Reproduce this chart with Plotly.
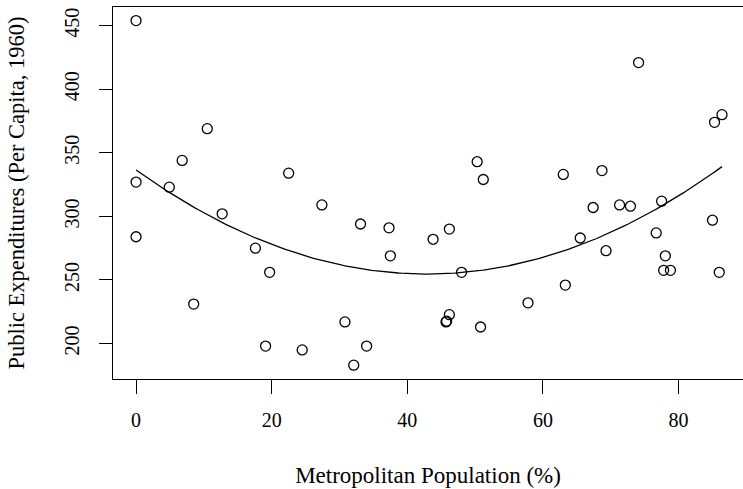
import numpy as np
import plotly.graph_objects as go

# Metropolitan population (%) and public expenditures per capita (1960)
metro = [0, 10.5, 6.8, 0, 4.9, 22.5, 27.4, 12.7, 33.1, 37.3,
         0, 17.6, 37.5, 19.7, 8.5, 30.8, 19.1, 24.5, 34.0, 32.1,
         74.1, 86.4, 85.3, 50.3, 51.2, 63.0, 68.7, 71.3, 67.4, 72.9,
         77.5, 85.0, 46.2, 43.8, 65.5, 76.7, 69.3, 78.05, 77.8, 78.8,
         86.0, 48.0, 63.3, 57.8, 46.2, 45.7, 45.8, 50.8]
expend = [454, 369, 344, 327, 323, 334, 309, 302, 294, 291,
          284, 275, 269, 256, 231, 217, 198, 195, 198, 183,
          421, 380, 374, 343, 329, 333, 336, 309, 307, 308,
          312, 297, 290, 282, 283, 287, 273, 269, 257.6, 257.6,
          256, 256, 246, 232, 222.7, 217, 217.6, 213]

x_ticks = [0, 20, 40, 60, 80]
y_ticks = [200, 250, 300, 350, 400, 450]

# quadratic fit line
coef = np.polyfit(metro, expend, 2)
xs = np.linspace(min(metro), max(metro), 200)
ys = np.polyval(coef, xs)

FONT = "Times New Roman, Liberation Serif, DejaVu Serif, serif"

fig = go.Figure()
fig.add_trace(go.Scatter(x=metro, y=expend, mode="markers",
                         marker=dict(symbol="circle-open", size=10, color="black",
                                     line=dict(width=1.3, color="black")),
                         showlegend=False))
fig.add_trace(go.Scatter(x=xs, y=ys, mode="lines",
                         line=dict(color="black", width=1.3), showlegend=False))

fig.update_layout(
    width=743, height=489,
    margin=dict(l=113, r=0, t=7, b=110),
    plot_bgcolor="white", paper_bgcolor="white",
    font=dict(family=FONT, size=20, color="black"),
)
fig.update_xaxes(
    range=[-3.4, 89.5], tickvals=x_ticks, ticktext=[str(v) for v in x_ticks],
    showgrid=False, zeroline=False, showline=True, linecolor="black", linewidth=1.3,
    mirror=True, ticks="outside", ticklen=14, tickwidth=1.3, tickcolor="black",
    ticklabelstandoff=9,
    title=dict(text="Metropolitan Population (%)", font=dict(family=FONT, size=23), standoff=36),
)
fig.update_yaxes(
    range=[172.1, 464.7], tickvals=y_ticks, ticktext=[str(v) for v in y_ticks],
    showgrid=False, zeroline=False, showline=True, linecolor="black", linewidth=1.3,
    mirror=False, ticks="outside", ticklen=13, tickwidth=1.3, tickcolor="black",
    tickangle=-90, ticklabelstandoff=12,
    title=dict(text="Public Expenditures (Per Capita, 1960)", font=dict(family=FONT, size=22.5), standoff=29),
)

fig.write_html("out.html")
